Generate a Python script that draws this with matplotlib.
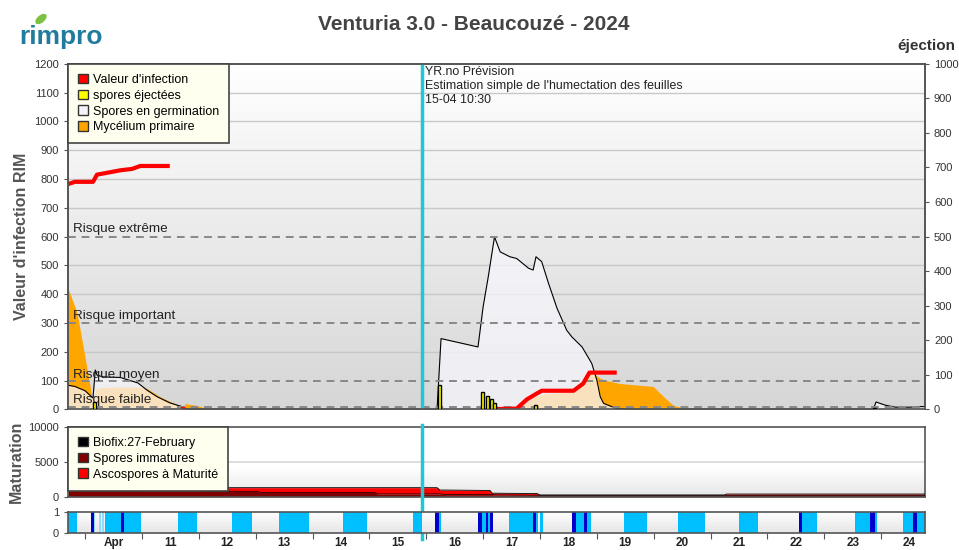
import numpy as np
import matplotlib
matplotlib.use("Agg")
import matplotlib.pyplot as plt
from matplotlib.patches import Patch, Ellipse

plt.rcParams['font.family'] = ['Liberation Sans', 'DejaVu Sans']

# --- données (x en jours d'avril, minuit = entier) ---
day_min, day_max = 9.70, 24.77
now_day = 15.93
day_ticks = list(range(10, 25))
day_labels = ['Apr'] + [str(d) for d in range(11, 25)]

# valeur d'infection RIM
rim_a_x = [9.70, 9.82, 10.14, 10.21, 10.35, 10.62, 10.83, 10.97, 11.49]
rim_a_y = [782, 790, 790, 815, 820, 830, 835, 845, 845]
rim_b_x = [11.69, 11.75]
rim_b_y = [2, 2]
rim_c_x = [17.15, 17.59, 17.77, 17.94, 18.03, 18.59, 18.76, 18.87, 19.35]
rim_c_y = [1, 3, 35, 55, 65, 65, 90, 128, 128]

# spores en germination
germ_a_x = [9.70, 9.82, 10.00, 10.11, 10.14, 10.18, 10.21, 10.32, 10.62, 10.93, 11.09, 11.27, 11.49, 11.72, 11.79]
germ_a_y = [84, 80, 65, 45, 40, 137, 119, 113, 111, 92, 67, 44, 23, 9, 0]
germ_b_x = [16.19, 16.26, 16.91, 17.00, 17.09, 17.20, 17.30, 17.47, 17.59, 17.80, 17.88, 17.93,
            18.03, 18.15, 18.30, 18.47, 18.56, 18.74, 18.91, 19.00, 19.06, 19.12, 19.35, 19.59]
germ_b_y = [0, 246, 217, 356, 460, 599, 547, 530, 524, 490, 484, 530,
            513, 438, 351, 275, 252, 217, 160, 102, 44, 21, 3, 0]
germ_c_x = [23.86, 23.91, 24.07, 24.25, 24.51, 24.69, 24.77]
germ_c_y = [0, 26, 15, 8, 8, 10, 10]

# mycélium primaire
myc_a_x = [9.70, 9.86, 10.00, 10.09, 10.14, 10.18, 10.26, 10.62, 10.93, 11.09, 11.32, 11.55,
           11.67, 11.72, 11.76, 11.93, 12.11, 12.23]
myc_a_y = [421, 335, 181, 78, 20, 70, 76, 78, 78, 73, 44, 23, 10, 5, 20, 15, 6, 0]
myc_b_x = [17.21, 17.39, 17.56, 17.74, 17.91, 18.09, 18.35, 18.62, 18.79, 18.90, 19.06, 19.18,
           19.41, 19.64, 19.99, 20.17, 20.34, 20.52, 20.82]
myc_b_y = [0, 2, 5, 25, 45, 55, 58, 62, 110, 130, 108, 100, 90, 86, 80, 45, 15, 5, 0]

# spores éjectées (axe de droite)
spore_x = [10.17, 16.24, 16.99, 17.07, 17.15, 17.20, 17.92, 23.89]
spore_y = [22, 70, 50, 38, 30, 18, 14, 4]

# seuils de risque
risk_levels = [600, 300, 100, 8]
risk_names = ['Risque extrême', 'Risque important', 'Risque moyen', 'Risque faible']
risk_text_y = [627, 324, 120, 32]

# maturation
mat_x = [9.70, 11.02, 11.06, 12.02, 12.06, 13.04, 13.08, 15.10, 15.14, 16.19, 16.24, 16.33,
         17.00, 17.12, 17.16, 17.21, 17.95, 18.00, 21.24, 21.28, 24.77]
immatures = [950, 950, 850, 850, 750, 750, 600, 600, 400, 400, 400, 300,
             300, 300, 300, 250, 210, 200, 200, 200, 200]
matures = [340, 340, 440, 440, 540, 540, 690, 690, 890, 890, 550, 650,
           600, 600, 200, 250, 240, 50, 50, 180, 180]

# humectation / pluie
wet_start = [9.70, 10.35, 11.64, 12.59, 13.41, 14.54, 15.77, 16.16, 16.91, 17.46, 18.00, 18.56,
             19.48, 20.43, 21.50, 22.56, 23.54, 24.39]
wet_end = [9.86, 10.98, 11.97, 12.94, 13.94, 14.96, 15.93, 16.26, 17.18, 17.97, 18.05, 18.90,
           19.88, 20.90, 21.84, 22.87, 23.93, 24.77]
pale_start = [10.16, 10.25, 10.30]
pale_end = [10.18, 10.28, 10.33]
rain_start = [10.11, 10.63, 16.16, 16.91, 17.05, 17.12, 17.88, 18.56, 18.78, 22.56, 23.81, 24.56]
rain_end = [10.16, 10.69, 16.23, 16.98, 17.09, 17.18, 17.93, 18.64, 18.83, 22.61, 23.89, 24.63]


def fond_degrade(ax, ylo, yhi, haut=1.0, bas=0.84):
    g = np.linspace(haut, bas, 256).reshape(-1, 1)
    img = np.dstack([g, g, g])
    ax.imshow(img, extent=[day_min, day_max, ylo, yhi], aspect='auto',
              origin='upper', zorder=0, interpolation='bilinear')


def style_axe(ax):
    for s in ax.spines.values():
        s.set_color('#555555')
        s.set_linewidth(1.2)
    ax.tick_params(axis='y', labelsize=8, colors='#555555', labelcolor='#333333', length=3)


def legende(ax, handles):
    lg = ax.legend(handles=handles, loc='upper left', bbox_to_anchor=(0, 1), borderaxespad=0,
                   fontsize=9, fancybox=False, facecolor='#fffff0', edgecolor='#444444',
                   framealpha=1, handlelength=0.8, handleheight=0.8, handletextpad=0.4,
                   labelspacing=0.3, borderpad=0.8)
    lg.get_frame().set_linewidth(1.2)
    return lg


fig = plt.figure(figsize=(9.59, 5.5), dpi=100)

# ---- graphique principal ----
ax = fig.add_axes([0.0709, 0.2555, 0.8936, 0.6287])
fond_degrade(ax, 0, 1200)
ax.set_xlim(day_min, day_max)
ax.set_ylim(0, 1200)
ax.set_yticks(range(0, 1201, 100))
for v in range(100, 1200, 100):
    if v not in risk_levels:
        ax.axhline(v, color='#c8c8c8', lw=1, zorder=1)
ax.tick_params(axis='x', bottom=False, labelbottom=False)
style_axe(ax)

for xs, ys in [(myc_a_x, myc_a_y), (myc_b_x, myc_b_y)]:
    ax.fill_between(xs, ys, color='#ffa500', lw=0, zorder=2)
for xs, ys in [(germ_a_x, germ_a_y), (germ_b_x, germ_b_y), (germ_c_x, germ_c_y)]:
    ax.fill_between(xs, ys, color='#f6f6fc', alpha=0.75, lw=0, zorder=3)
    ax.plot(xs, ys, color='black', lw=0.8, zorder=4)

for v in risk_levels:
    ax.axhline(v, color='#888888', lw=1.4, ls=(0, (4, 3)), zorder=4.5)
for name, ty in zip(risk_names, risk_text_y):
    ax.text(9.79, ty, name, fontsize=9.7, color='#222222', va='center', zorder=6)

for xs, ys in [(rim_a_x, rim_a_y), (rim_b_x, rim_b_y), (rim_c_x, rim_c_y)]:
    ax.plot(xs, ys, color='#ff0000', lw=3, solid_capstyle='butt', zorder=5)

ax.axvline(now_day, color='#1ec8d4', lw=2.5, zorder=7)
ax.text(15.98, 1192, "YR.no Prévision\nEstimation simple de l'humectation des feuilles\n15-04 10:30",
        fontsize=8.9, color='#222222', va='top', linespacing=1.2, zorder=7)

ax.set_ylabel("Valeur d'infection RIM", fontsize=11.5, fontweight='bold', color='#555555')
ax.yaxis.set_label_coords(-0.0455, 0.5)

ax2 = ax.twinx()
ax2.set_ylim(0, 1000)
ax2.set_yticks(range(0, 1001, 100))
ax2.bar(spore_x, spore_y, width=0.05, color='#ffff00', edgecolor='black', lw=1, zorder=3)
style_axe(ax2)
ax2.set_title('éjection', loc='right', fontsize=11, fontweight='bold', color='#333333',
              x=1.035, pad=10)

legende(ax2, [Patch(facecolor='#ff0000', edgecolor='#333333', label="Valeur d'infection"),
              Patch(facecolor='#ffff00', edgecolor='#333333', label='spores éjectées'),
              Patch(facecolor='#f4f4f8', edgecolor='#333333', label='Spores en germination'),
              Patch(facecolor='#ffa500', edgecolor='#333333', label='Mycélium primaire')])

# ---- maturation ----
axm = fig.add_axes([0.0709, 0.0969, 0.8936, 0.1273])
g = np.concatenate([np.ones(150), np.linspace(1, 0.9, 106)]).reshape(-1, 1)
axm.imshow(np.dstack([g, g, g]), extent=[day_min, day_max, 0, 10000], aspect='auto',
           origin='upper', zorder=0)
axm.set_xlim(day_min, day_max)
axm.set_ylim(0, 10000)
axm.set_yticks([0, 5000, 10000])
axm.axhline(5000, color='#d8d8d8', lw=1.2, zorder=1)
total = np.array(immatures) + np.array(matures)
axm.fill_between(mat_x, 0, immatures, color='#800000', lw=0, zorder=2)
axm.fill_between(mat_x, immatures, total, color='#ff0000', lw=0, zorder=2)
axm.plot(mat_x, total, color='black', lw=0.6, zorder=3)
axm.plot(mat_x, immatures, color='black', lw=0.5, zorder=3)
axm.tick_params(axis='x', bottom=False, labelbottom=False)
style_axe(axm)
axm.set_ylabel('Maturation', fontsize=11.5, fontweight='bold', color='#555555')
axm.yaxis.set_label_coords(-0.0513, 0.5)
axm.axvline(now_day, ymin=-0.6, ymax=1.02, color='#1ec8d4', lw=2.5, clip_on=False, zorder=7)
leg2 = legende(axm, [Patch(facecolor='#000000', edgecolor='#333333', label='Biofix:27-February'),
                     Patch(facecolor='#800000', edgecolor='#333333', label='Spores immatures'),
                     Patch(facecolor='#ff0000', edgecolor='#333333', label='Ascospores à Maturité')])
leg2.set_zorder(5)

# ---- humectation ----
axw = fig.add_axes([0.0709, 0.0309, 0.8936, 0.0382])
g = np.linspace(1, 0.9, 64).reshape(-1, 1)
axw.imshow(np.dstack([g, g, g]), extent=[day_min, day_max, 0, 1], aspect='auto',
           origin='upper', zorder=0)
for a, b in zip(wet_start, wet_end):
    axw.axvspan(a, b, color='#00bfff', lw=0, zorder=1)
for a, b in zip(pale_start, pale_end):
    axw.axvspan(a, b, color='#8fdcff', lw=0, zorder=1)
for a, b in zip(rain_start, rain_end):
    axw.axvspan(a, b, color='#0000cd', lw=0, zorder=2)
axw.set_xlim(day_min, day_max)
axw.set_ylim(0, 1)
axw.set_yticks([0, 1])
style_axe(axw)
axw.set_xticks(day_ticks)
axw.tick_params(axis='x', which='major', length=4, color='#555555', labelbottom=False)
axw.set_xticks([d + 0.5 for d in day_ticks], minor=True)
axw.set_xticklabels(day_labels, minor=True)
axw.tick_params(axis='x', which='minor', length=0, pad=3, labelsize=8.5, labelcolor='#222222')
for t in axw.get_xticklabels(minor=True):
    t.set_fontweight('bold')

# ---- titre et logo ----
fig.text(0.494, 0.956, 'Venturia 3.0 - Beaucouzé - 2024', ha='center', va='center',
         fontsize=15, fontweight='bold', color='#444444')
ov = fig.add_axes([0, 0, 1, 1], zorder=-1)
ov.set_xlim(0, 959)
ov.set_ylim(550, 0)
ov.axis('off')
ov.add_patch(Ellipse((41, 19), 12, 6, angle=-40, color='#7dc142'))
ov.text(19, 37, 'rimpro', fontsize=19, fontweight='bold', color='#207b9c', va='center')

fig.savefig('out.png', dpi=100)
